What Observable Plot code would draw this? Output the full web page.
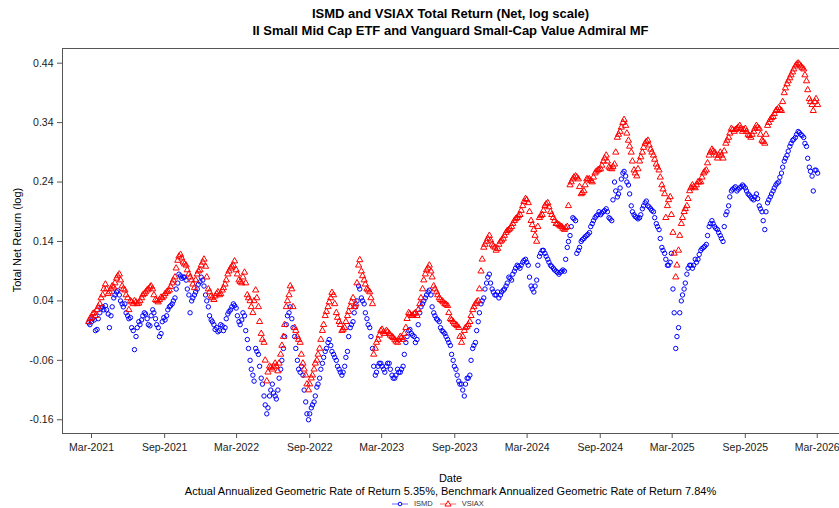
<!DOCTYPE html>
<html><head><meta charset="utf-8">
<script src="https://cdn.jsdelivr.net/npm/d3@7"></script>
<script src="https://cdn.jsdelivr.net/npm/@observablehq/plot@0.6"></script>
<style>
html,body{margin:0;padding:0;background:#fff;}
#wrap{position:relative;width:839px;height:508px;overflow:hidden;font-family:"Liberation Sans",Arial,sans-serif;color:#000;}
.t{position:absolute;left:62px;width:777px;text-align:center;white-space:nowrap;}
.title{font-weight:bold;font-size:13px;}
#ylab{position:absolute;left:17px;top:240px;transform:translate(-50%,-50%) rotate(-90deg);font-size:11px;white-space:nowrap;}
#chart{position:absolute;left:0;top:0;}
#legend{position:absolute;left:391px;top:499px;display:flex;align-items:center;font-size:7.5px;color:#333;}
#legend span{margin:0 6px 0 5px;}
</style>
</head><body>
<div id="wrap">
  <div id="chart"></div>
  <div class="t title" style="top:6px">ISMD and VSIAX Total Return (Net, log scale)</div>
  <div class="t title" style="top:23px">II Small Mid Cap ETF and Vanguard Small-Cap Value Admiral MF</div>
  <div id="ylab">Total Net Return (log)</div>
  <div class="t" style="top:472px;font-size:11px">Date</div>
  <div class="t" style="top:485px;font-size:11px">Actual Annualized Geometric Rate of Return 5.35%, Benchmark Annualized Geometric Rate of Return 7.84%</div>
  <div id="legend"></div>
</div>
<script>
// weekly observations (Mondays) starting here, plus mid-week readings
const startDate = "2021-02-22";
const seriesNames = ["ISMD", "VSIAX"];
const seriesColors = ["#0000ff", "#ff0000"];

const ismd = [
0.003,0.005,0.008,-0.008,0.02,0.03,0.032,0.018,0.015,0.045,
0.055,0.05,0.035,0.035,0.015,0.012,-0.01,-0.02,0.005,0.008,
0.02,0.01,-0.002,0.025,0.01,-0.005,-0.015,0.012,0.015,0.03,
0.035,0.045,0.07,0.082,0.08,0.075,0.05,0.04,0.05,0.06,
0.072,0.075,0.05,0.03,0.008,0.0,-0.005,-0.01,-0.002,-0.005,
0.018,0.025,0.035,0.028,0.005,0.008,0.015,-0.025,-0.06,-0.085,
-0.04,-0.05,-0.09,-0.12,-0.15,-0.12,-0.1,-0.12,-0.11,-0.075,
-0.04,0.0,0.02,0.01,-0.02,-0.06,-0.08,-0.085,-0.13,-0.16,
-0.14,-0.13,-0.105,-0.09,-0.065,-0.045,-0.03,-0.035,-0.05,-0.06,
-0.075,-0.085,-0.07,-0.045,-0.005,0.005,0.03,0.065,0.045,0.035,
0.01,-0.005,-0.04,-0.085,-0.07,-0.065,-0.075,-0.07,-0.065,-0.085,
-0.09,-0.075,-0.08,-0.07,-0.03,-0.01,-0.015,-0.02,-0.025,0.02,
0.035,0.045,0.055,0.05,0.02,0.01,0.005,-0.01,-0.015,-0.025,
-0.035,-0.06,-0.075,-0.095,-0.1,-0.12,-0.09,-0.085,-0.04,-0.03,
0.005,0.035,0.045,0.07,0.085,0.06,0.05,0.055,0.05,0.058,
0.065,0.08,0.075,0.09,0.1,0.095,0.105,0.11,0.1,0.065,
0.055,0.075,0.115,0.125,0.12,0.11,0.1,0.095,0.09,0.085,
0.09,0.09,0.13,0.15,0.18,0.175,0.125,0.14,0.145,0.15,
0.155,0.17,0.18,0.185,0.185,0.19,0.195,0.18,0.175,0.24,
0.215,0.23,0.255,0.25,0.235,0.2,0.185,0.18,0.18,0.195,
0.205,0.2,0.195,0.19,0.17,0.16,0.13,0.12,0.1,0.105,
0.06,-0.04,-0.005,0.04,0.06,0.085,0.1,0.095,0.11,0.11,
0.125,0.13,0.135,0.165,0.175,0.165,0.16,0.15,0.14,0.185,
0.2,0.225,0.23,0.225,0.23,0.235,0.23,0.22,0.215,0.21,
0.22,0.2,0.19,0.16,0.205,0.215,0.225,0.235,0.24,0.255,
0.275,0.285,0.3,0.31,0.315,0.325,0.32,0.315,0.3,0.265,
0.25,0.26,0.255
];
const ismdMid = [
0.0,0.01,-0.01,0.01,0.028,0.025,0.025,-0.005,0.03,0.05,
0.057,0.04,0.03,0.02,0.01,-0.005,-0.042,-0.005,0.0,0.015,
0.018,0.0,0.015,0.02,0.0,-0.02,0.005,0.008,0.025,0.032,
0.04,0.06,0.085,0.078,0.08,0.06,0.02,0.045,0.055,0.068,
0.08,0.065,0.04,0.015,0.005,-0.008,-0.012,0.0,-0.01,0.01,
0.022,0.03,0.032,0.015,0.0,0.02,-0.01,-0.04,-0.075,-0.095,
-0.045,-0.07,-0.1,-0.135,-0.14,-0.11,-0.115,-0.125,-0.09,-0.06,
-0.02,0.015,0.03,-0.005,-0.04,-0.075,-0.07,-0.11,-0.15,-0.15,
-0.135,-0.12,-0.1,-0.075,-0.055,-0.04,-0.025,-0.045,-0.055,-0.07,
-0.08,-0.08,-0.055,-0.02,0.0,0.02,0.04,0.06,0.04,0.02,
0.0,-0.02,-0.07,-0.08,-0.065,-0.07,-0.08,-0.065,-0.075,-0.09,
-0.085,-0.08,-0.075,-0.05,-0.02,-0.008,-0.018,-0.03,0.0,0.03,
0.04,0.05,0.058,0.03,0.015,0.008,-0.005,-0.012,-0.02,-0.03,
-0.05,-0.07,-0.085,-0.1,-0.11,-0.1,-0.09,-0.06,-0.035,-0.01,
0.02,0.04,0.06,0.08,0.07,0.055,0.05,0.045,0.055,0.06,
0.07,0.078,0.085,0.095,0.098,0.1,0.108,0.105,0.08,0.06,
0.065,0.1,0.12,0.125,0.115,0.105,0.098,0.092,0.088,0.088,
0.092,0.11,0.14,0.165,0.178,0.12,0.13,0.143,0.148,0.152,
0.165,0.175,0.183,0.19,0.188,0.192,0.19,0.178,0.21,0.225,
0.22,0.245,0.258,0.24,0.22,0.19,0.182,0.178,0.185,0.2,
0.208,0.198,0.192,0.18,0.165,0.145,0.125,0.11,0.1,0.12,
0.02,-0.02,0.02,0.05,0.07,0.095,0.1,0.1,0.105,0.118,
0.128,0.132,0.15,0.17,0.17,0.162,0.155,0.145,0.165,0.19,
0.215,0.228,0.232,0.228,0.232,0.233,0.225,0.218,0.212,0.215,
0.212,0.195,0.175,0.19,0.21,0.22,0.23,0.238,0.248,0.265,
0.28,0.292,0.305,0.312,0.32,0.323,0.318,0.305,0.28,0.258,
0.225,0.26
];

const vsiax = [
0.005,0.012,0.02,0.025,0.035,0.05,0.068,0.052,0.06,0.063,
0.078,0.085,0.065,0.058,0.045,0.04,0.035,0.038,0.036,0.045,
0.052,0.058,0.063,0.06,0.042,0.038,0.046,0.048,0.055,0.058,
0.07,0.08,0.108,0.118,0.105,0.1,0.085,0.075,0.062,0.085,
0.092,0.105,0.098,0.06,0.048,0.042,0.052,0.05,0.058,0.068,
0.085,0.095,0.1,0.092,0.075,0.07,0.088,0.05,0.04,0.02,
0.058,0.03,-0.015,-0.03,-0.095,-0.07,-0.075,-0.065,-0.078,-0.05,
-0.02,0.03,0.05,0.06,-0.005,-0.02,-0.03,-0.065,-0.085,-0.11,
-0.09,-0.075,-0.06,-0.04,-0.01,0.015,0.03,0.045,0.05,0.02,
0.005,-0.01,-0.005,0.015,0.03,0.045,0.035,0.1,0.09,0.075,
0.06,0.055,0.035,-0.04,-0.025,-0.01,-0.012,-0.01,-0.015,-0.02,
-0.025,-0.03,-0.02,-0.025,-0.005,0.02,0.015,0.018,0.015,0.035,
0.06,0.085,0.095,0.09,0.065,0.055,0.045,0.04,0.035,0.032,
0.01,0.005,0.0,-0.005,-0.03,-0.01,-0.003,0.005,0.025,0.035,
0.04,0.09,0.13,0.14,0.15,0.135,0.13,0.128,0.14,0.145,
0.155,0.16,0.165,0.175,0.18,0.185,0.2,0.212,0.205,0.175,
0.16,0.14,0.18,0.185,0.2,0.205,0.19,0.18,0.17,0.168,
0.165,0.16,0.165,0.235,0.245,0.25,0.245,0.22,0.225,0.245,
0.245,0.24,0.255,0.26,0.262,0.275,0.285,0.265,0.262,0.27,
0.315,0.325,0.34,0.335,0.31,0.29,0.26,0.25,0.275,0.29,
0.305,0.31,0.295,0.285,0.27,0.26,0.235,0.22,0.2,0.215,
0.155,0.08,0.125,0.17,0.19,0.2,0.225,0.235,0.23,0.24,
0.24,0.255,0.26,0.285,0.295,0.29,0.28,0.29,0.28,0.305,
0.315,0.33,0.325,0.33,0.335,0.325,0.33,0.32,0.315,0.325,
0.335,0.33,0.31,0.305,0.335,0.345,0.35,0.36,0.365,0.36,
0.39,0.405,0.415,0.425,0.435,0.44,0.435,0.43,0.41,0.38,
0.37,0.375,0.37
];
const vsiaxMid = [
0.01,0.018,0.015,0.03,0.045,0.06,0.06,0.055,0.065,0.07,
0.082,0.075,0.06,0.05,0.025,0.038,0.04,0.035,0.04,0.05,
0.055,0.06,0.065,0.05,0.04,0.042,0.045,0.052,0.056,0.064,
0.075,0.095,0.115,0.112,0.102,0.092,0.08,0.068,0.075,0.09,
0.1,0.11,0.08,0.055,0.045,0.048,0.055,0.052,0.062,0.075,
0.09,0.098,0.107,0.085,0.072,0.08,0.07,0.045,0.03,0.04,
0.045,0.005,-0.025,-0.06,-0.08,-0.072,-0.07,-0.07,-0.065,-0.035,
0.0,0.04,0.065,0.03,-0.01,-0.025,-0.05,-0.075,-0.1,-0.1,
-0.085,-0.065,-0.05,-0.025,0.0,0.022,0.038,0.054,0.035,0.012,
0.0,-0.008,0.005,0.022,0.038,0.03,0.07,0.109,0.082,0.068,
0.058,0.045,-0.05,-0.03,-0.018,-0.008,-0.015,-0.012,-0.018,-0.022,
-0.028,-0.025,-0.022,-0.015,0.01,0.018,0.016,0.02,0.025,0.045,
0.075,0.092,0.1,0.08,0.06,0.05,0.042,0.038,0.034,0.02,
0.008,0.002,-0.002,-0.02,-0.02,-0.005,0.0,0.015,0.03,0.038,
0.06,0.11,0.135,0.145,0.142,0.132,0.125,0.135,0.142,0.15,
0.158,0.162,0.17,0.178,0.183,0.192,0.207,0.21,0.19,0.168,
0.15,0.165,0.183,0.192,0.203,0.198,0.185,0.175,0.17,0.166,
0.162,0.163,0.2,0.24,0.248,0.248,0.232,0.222,0.235,0.245,
0.242,0.248,0.258,0.261,0.268,0.28,0.275,0.263,0.266,0.29,
0.32,0.332,0.345,0.322,0.3,0.275,0.255,0.262,0.282,0.298,
0.308,0.302,0.29,0.278,0.265,0.248,0.228,0.18,0.21,0.185,
0.12,0.1,0.15,0.18,0.195,0.212,0.23,0.232,0.235,0.24,
0.248,0.258,0.272,0.29,0.292,0.285,0.285,0.285,0.292,0.31,
0.322,0.328,0.328,0.332,0.33,0.328,0.325,0.318,0.32,0.33,
0.332,0.32,0.308,0.32,0.34,0.348,0.355,0.362,0.362,0.375,
0.398,0.41,0.42,0.43,0.438,0.438,0.432,0.42,0.395,0.375,
0.36,0.38
];

const yTicks = [-0.16, -0.06, 0.04, 0.14, 0.24, 0.34, 0.44];
const xTicks = ["2021-03-01","2021-09-01","2022-03-01","2022-09-01","2023-03-01","2023-09-01",
                "2024-03-01","2024-09-01","2025-03-01","2025-09-01","2026-03-01"];

const start = new Date(startDate + "T00:00:00Z");
const toRows = (weekly, mid) => [
  ...weekly.map((v, i) => ({date: d3.utcDay.offset(start, 7 * i), v})),
  ...mid.map((v, i) => ({date: d3.utcDay.offset(start, 7 * i + 3), v}))
].sort((a, b) => a.date - b.date);
const ismdRows = toRows(ismd, ismdMid);
const vsiaxRows = toRows(vsiax, vsiaxMid);

const xDomain = [new Date("2020-12-18T00:00:00Z"), new Date("2026-04-26T00:00:00Z")];
const yDomain = [-0.1831, 0.4647];
const fmtMonth = d3.utcFormat("%b-%Y");

const chart = Plot.plot({
  width: 839,
  height: 508,
  marginTop: 48,
  marginBottom: 75,
  marginLeft: 62,
  marginRight: 0,
  style: {fontFamily: "Liberation Sans, Arial, sans-serif", fontSize: "10.5px", background: "transparent", color: "#111", overflow: "visible"},
  x: {type: "utc", domain: xDomain},
  y: {domain: yDomain},
  marks: [
    Plot.axisY({ticks: yTicks, tickFormat: d => d.toFixed(2), tickSize: 5, tickPadding: 4, label: null, stroke: "#555", fill: "#222", fontSize: 10.5}),
    Plot.axisX({ticks: xTicks.map(s => new Date(s + "T00:00:00Z")), tickFormat: fmtMonth, tickSize: 5, tickPadding: 5, label: null, stroke: "#555", fill: "#222", fontSize: 10.5}),
    Plot.ruleY([yDomain[0], yDomain[1]], {stroke: "#555", strokeWidth: 1}),
    Plot.ruleX([xDomain[0]], {stroke: "#555", strokeWidth: 1}),
    Plot.dot(ismdRows, {x: "date", y: "v", r: 2.2, symbol: "circle", stroke: seriesColors[0], strokeWidth: 1, fill: "none"}),
    Plot.dot(vsiaxRows, {x: "date", y: "v", r: 2.3, symbol: "triangle", stroke: seriesColors[1], strokeWidth: 1, fill: "none"})
  ]
});
document.getElementById("chart").appendChild(chart);

// legend
const legend = document.getElementById("legend");
seriesNames.forEach((name, i) => {
  const svg = d3.create("svg").attr("width", 18).attr("height", 8);
  svg.append("line").attr("x1", 1).attr("x2", 17).attr("y1", 4).attr("y2", 4).attr("stroke", seriesColors[i]).attr("stroke-opacity", 0.6);
  if (i === 0) svg.append("circle").attr("cx", 9).attr("cy", 4).attr("r", 1.8).attr("fill", "#fff").attr("stroke", seriesColors[i]);
  else svg.append("path").attr("d", d3.symbol(d3.symbolTriangle, 16)()).attr("transform", "translate(9,4.3)").attr("fill", "#fff").attr("stroke", seriesColors[i]);
  legend.appendChild(svg.node());
  const s = document.createElement("span");
  s.textContent = name;
  legend.appendChild(s);
});
</script>
</body></html>
